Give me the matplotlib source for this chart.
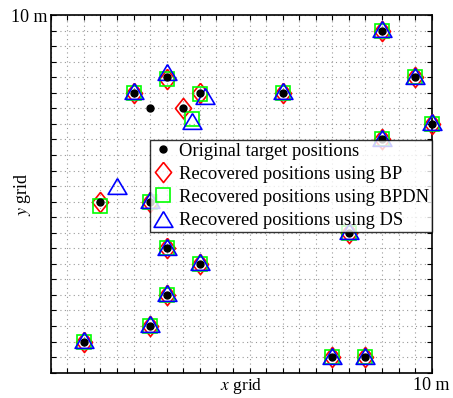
import matplotlib.pyplot as plt

plt.rcParams['font.family'] = ['Liberation Serif', 'DejaVu Serif']
plt.rcParams['mathtext.fontset'] = 'stix'

# 原始目标位置 (grid units)
orig_x = [5, 7, 6, 8, 9, 14, 20, 22, 23, 20, 3, 6, 7, 9, 7, 6, 2, 17, 19, 18]
orig_y = [18, 19, 17, 17, 18, 18, 22, 19, 16, 15, 11, 11, 8, 7, 5, 3, 2, 1, 1, 9]

# 恢复位置 BP
bp_x = [5, 7, 8, 9, 14, 20, 22, 23, 20, 3, 6, 7, 9, 7, 6, 2, 17, 19, 18]
bp_y = [18, 18.9, 17, 18, 18, 22, 19, 16, 15, 11, 11, 8, 7, 5, 3, 2, 1, 1, 9]

# BPDN
bpdn_x = [5, 7, 8.5, 9, 14, 20, 22, 23, 20, 3, 6, 7, 9, 7, 6, 2, 17, 19, 18]
bpdn_y = [18, 18.9, 16.3, 17.9, 18, 22, 19, 16, 15, 10.7, 11, 8, 7, 5, 3, 2, 1, 1, 9]

# DS
ds_x = [5, 7, 8.5, 9.3, 14, 20, 22, 23, 20, 4, 6, 7, 9, 7, 6, 2, 17, 19, 18]
ds_y = [18.1, 19.35, 16.2, 17.8, 18.1, 22.1, 19.1, 16.1, 15.1, 12, 11.1, 8.1, 7.1, 5.1, 3.1, 2.1, 1.1, 1.1, 9.1]

labels = ['Original target positions', 'Recovered positions using BP',
          'Recovered positions using BPDN', 'Recovered positions using DS']

diamond = [(0, 1), (0.8, 0), (0, -1), (-0.8, 0), (0, 1)]
triangle = [(0, 0.84), (1, -0.84), (-1, -0.84), (0, 0.84)]

fig = plt.figure(figsize=(4.53, 3.98), dpi=100)
ax = fig.add_axes([0.112, 0.0636, 0.841, 0.8987])

ax.plot(orig_x, orig_y, 'o', color='k', markersize=5, clip_on=False, zorder=5, label=labels[0])
ax.plot(bp_x, bp_y, linestyle='none', marker=diamond, markersize=14.5, markerfacecolor='none',
        markeredgecolor='r', markeredgewidth=1.2, clip_on=False, zorder=3, label=labels[1])
ax.plot(bpdn_x, bpdn_y, 's', markersize=10.5, markerfacecolor='none',
        markeredgecolor=(0, 1, 0), markeredgewidth=1.2, clip_on=False, zorder=3, label=labels[2])
ax.plot(ds_x, ds_y, linestyle='none', marker=triangle, markersize=13.5, markerfacecolor='none',
        markeredgecolor='b', markeredgewidth=1.2, clip_on=False, zorder=4, label=labels[3])

ax.set_xlim(0, 23)
ax.set_ylim(0, 23)
ax.set_xticks(range(24))
ax.set_yticks(range(24))
ax.set_xticklabels([''] * 23 + ['10 m'], fontsize=13)
ax.set_yticklabels([''] * 23 + ['10 m'], fontsize=13)
ax.tick_params(direction='in', length=3.5, width=0.8, top=True, right=True, pad=3)
ax.tick_params(axis='y', pad=2)
ax.grid(True, linestyle=(0, (1, 3)), color='#999999', linewidth=0.8)
for s in ax.spines.values():
    s.set_linewidth(1.2)

ax.set_xlabel('$x$ grid', fontsize=12.5)
ax.set_ylabel('$y$ grid', fontsize=13)
ax.xaxis.set_label_coords(0.5, -0.01)
ax.yaxis.set_label_coords(-0.047, 0.5)

leg = ax.legend(loc='upper right', bbox_to_anchor=(1.0, 0.6506), fontsize=13.3,
                frameon=True, fancybox=False, borderpad=0.15, labelspacing=0.33,
                handlelength=1.1, handletextpad=0.3, borderaxespad=0)
leg.get_frame().set_edgecolor('k')
leg.get_frame().set_linewidth(1.0)
leg.set_zorder(10)

plt.savefig('out.png', dpi=100)
